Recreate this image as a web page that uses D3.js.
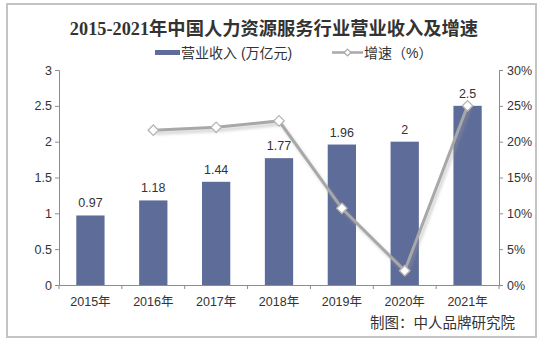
<!DOCTYPE html>
<html><head><meta charset="utf-8">
<script src="https://cdn.jsdelivr.net/npm/d3@7"></script>
<style>
html,body{margin:0;padding:0;background:#fff;}
svg{display:block;}
text{font-family:"Liberation Sans","Noto Sans CJK SC",sans-serif;}
</style></head><body>
<svg id="c" width="542" height="342"></svg>
<script>
const years = ["2015年","2016年","2017年","2018年","2019年","2020年","2021年"];
const revenue = [0.97,1.18,1.44,1.77,1.96,2,2.5];
const growth = [null,21.6,22.0,22.9,10.7,2.0,25.0];
const leftTicks = [0,0.5,1,1.5,2,2.5,3];
const rightTicks = [0,5,10,15,20,25,30];
const title = "2015-2021年中国人力资源服务行业营业收入及增速";
const seriesNames = ["营业收入 (万亿元)","增速（%）"];
const credit = "制图：中人品牌研究院";

const svg = d3.select("#c");
const L=59,R=499,T=70,B=285;
const x = d3.scaleBand().domain(years).range([L,R]).paddingInner(0.55).paddingOuter(0.275);
const y = d3.scaleLinear().domain([0,3]).range([B,T]);
const y2 = d3.scaleLinear().domain([0,30]).range([B,T]);
const barColor="#5e6c99", lineColor="#a8a8a8", axisColor="#8c8c8c", textColor="#333";

// frame
svg.append("rect").attr("x",7).attr("y",4).attr("width",529).attr("height",333)
  .attr("fill","none").attr("stroke","#c4c4c4").attr("stroke-width",2);

// title
svg.append("text").attr("x",274).attr("y",35).attr("text-anchor","middle")
  .style("font-family","'Liberation Serif','Noto Sans CJK SC',serif")
  .style("font-weight","bold").style("font-size","18.3px").attr("fill","#333").text(title);

// legend
const lg = svg.append("g");
lg.append("rect").attr("x",155).attr("y",50).attr("width",25).attr("height",5).attr("fill",barColor);
lg.append("text").attr("x",181).attr("y",57.5).style("font-size","14px").attr("fill",textColor).text(seriesNames[0]);
lg.append("line").attr("x1",332).attr("x2",363).attr("y1",52.5).attr("y2",52.5).attr("stroke",lineColor).attr("stroke-width",2.5);
lg.append("path").attr("d",d3.symbol(d3.symbolDiamond2,30)()).attr("transform","translate(347.5,52.5)")
  .attr("fill","#fff").attr("stroke",lineColor).attr("stroke-width",1.2);
lg.append("text").attr("x",364).attr("y",57.5).style("font-size","14px").attr("fill",textColor).text(seriesNames[1]);

// axes
const ga = svg.append("g").attr("transform",`translate(${L},0)`)
  .call(d3.axisLeft(y).tickValues(leftTicks).tickSize(4).tickFormat(d=>d3.format("")(d)));
const gr = svg.append("g").attr("transform",`translate(${R},0)`)
  .call(d3.axisRight(y2).tickValues(rightTicks).tickSize(4).tickFormat(d=>d+"%"));
[ga,gr].forEach(g=>{
  g.select(".domain").attr("stroke",axisColor);
  g.selectAll(".tick line").attr("stroke",axisColor);
  g.selectAll(".tick text").style("font-size","12.5px").attr("fill",textColor).style("font-family","'Liberation Sans',sans-serif");
});
ga.selectAll(".tick text").attr("x",-7);
gr.selectAll(".tick text").attr("x",8);

// bars
svg.append("g").selectAll("rect").data(revenue).join("rect")
  .attr("x",(d,i)=>x(years[i])).attr("width",x.bandwidth())
  .attr("y",d=>y(d)).attr("height",d=>B-y(d)).attr("fill",barColor);

// x axis
const gx = svg.append("g").attr("transform",`translate(0,${B})`)
  .call(d3.axisBottom(x).tickSize(0).tickPadding(10));
gx.select(".domain").attr("stroke",axisColor);
gx.selectAll(".tick text").style("font-size","12.5px").attr("fill",textColor).attr("dy","0.9em");
// category boundary ticks
const step = x.step();
svg.append("g").selectAll("line").data(d3.range(years.length+1)).join("line")
  .attr("x1",i=>L+i*step).attr("x2",i=>L+i*step).attr("y1",B).attr("y2",B+4).attr("stroke",axisColor);

// data labels
svg.append("g").selectAll("text").data(revenue).join("text")
  .attr("x",(d,i)=>x(years[i])+x.bandwidth()/2).attr("y",d=>y(d)-8)
  .attr("text-anchor","middle").style("font-size","12.5px").attr("fill",textColor).text(d=>d);

// growth line
const pts = growth.map((g,i)=>g==null?null:[x(years[i])+x.bandwidth()/2,y2(g)]).filter(p=>p);
const line = d3.line();
const defs = svg.append("defs");
defs.append("filter").attr("id","blur").append("feGaussianBlur").attr("stdDeviation",1.5);
svg.append("path").attr("d",line(pts)).attr("transform","translate(2,3)")
  .attr("fill","none").attr("stroke","#9a9a9a").attr("stroke-opacity",0.45).attr("stroke-width",3).attr("filter","url(#blur)");
svg.append("path").attr("d",line(pts)).attr("fill","none").attr("stroke",lineColor).attr("stroke-width",3);
svg.append("g").selectAll("path").data(pts).join("path")
  .attr("d",d3.symbol(d3.symbolDiamond2,70)()).attr("transform",p=>`translate(${p[0]},${p[1]})`)
  .attr("fill","#fff").attr("stroke","#b5b5b5").attr("stroke-width",1.3);

// credit
svg.append("text").attr("x",370).attr("y",328).style("font-size","14.5px").attr("fill",textColor)
  .style("font-family","'Noto Sans CJK SC',sans-serif").text(credit);
</script>
</body></html>
